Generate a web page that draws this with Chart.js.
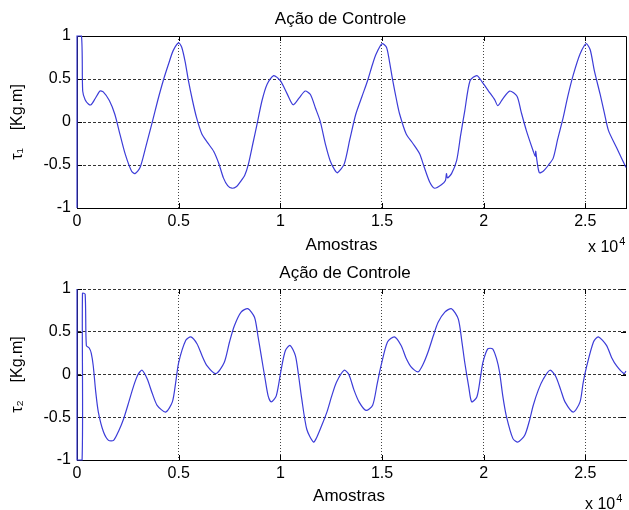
<!DOCTYPE html>
<html>
<head>
<meta charset="utf-8">
<script src="https://cdn.jsdelivr.net/npm/chart.js@4.4.1/dist/chart.umd.min.js"></script>
<style>
    html, body { margin: 0; padding: 0; background: #ffffff; }
    .panel { position: absolute; left: 0; width: 629px; height: 255px; }
</style>
</head>
<body>
<div class="panel" style="top:0"><canvas id="chart1" width="629" height="255"></canvas></div>
<div class="panel" style="top:255px"><canvas id="chart2" width="629" height="255"></canvas></div>
<script>
/* Amostras (x 10^4) and torque values */
const tau1X = [0, 0, 0.022, 0.028, 0.04, 0.056, 0.069, 0.089, 0.113, 0.129, 0.159, 0.186, 0.211, 0.238, 0.268, 0.285, 0.31, 0.337, 0.367, 0.397,
    0.424, 0.451, 0.473, 0.5, 0.515, 0.532, 0.548, 0.568, 0.588, 0.614, 0.642, 0.672, 0.697, 0.72, 0.741, 0.762, 0.785, 0.802, 0.825, 0.843,
    0.865, 0.885, 0.91, 0.935, 0.967, 1.0, 1.033, 1.063, 1.093, 1.122, 1.148, 1.173, 1.196, 1.223, 1.245, 1.268, 1.281, 1.314, 1.342, 1.371,
    1.402, 1.429, 1.452, 1.471, 1.5, 1.522, 1.537, 1.553, 1.572, 1.587, 1.619, 1.652, 1.685, 1.707, 1.735, 1.759, 1.792, 1.812, 1.817, 1.822,
    1.842, 1.867, 1.887, 1.907, 1.933, 1.967, 1.994, 2.024, 2.054, 2.07, 2.094, 2.128, 2.164, 2.184, 2.21, 2.244, 2.254, 2.256, 2.262, 2.274,
    2.294, 2.319, 2.342, 2.364, 2.391, 2.414, 2.441, 2.474, 2.504, 2.524, 2.544, 2.573, 2.594, 2.614, 2.654, 2.7];
const tau1Y = [-1, 1, 1, 0.36, 0.26, 0.21, 0.2, 0.27, 0.36, 0.35, 0.25, 0.09, -0.14, -0.38, -0.57, -0.6, -0.53, -0.3, -0.03, 0.25,
    0.48, 0.68, 0.83, 0.92, 0.87, 0.7, 0.48, 0.25, 0.05, -0.14, -0.24, -0.34, -0.48, -0.65, -0.74, -0.77, -0.75, -0.7, -0.62, -0.49,
    -0.25, -0.03, 0.25, 0.44, 0.54, 0.48, 0.33, 0.2, 0.28, 0.36, 0.32, 0.16, 0.01, -0.27, -0.45, -0.56, -0.59, -0.49, -0.2, 0.09,
    0.3, 0.48, 0.66, 0.79, 0.91, 0.87, 0.7, 0.48, 0.25, 0.09, -0.14, -0.25, -0.37, -0.52, -0.7, -0.77, -0.73, -0.68, -0.6, -0.65,
    -0.6, -0.45, -0.15, 0.13, 0.48, 0.54, 0.46, 0.36, 0.26, 0.19, 0.27, 0.36, 0.3, 0.12, -0.1, -0.34, -0.4, -0.34, -0.45, -0.59,
    -0.57, -0.5, -0.42, -0.2, 0.05, 0.3, 0.55, 0.79, 0.91, 0.84, 0.6, 0.32, 0.1, -0.1, -0.3, -0.53];

const tau2X = [0, 0, 0.025, 0.027, 0.04, 0.046, 0.06, 0.07, 0.08, 0.092, 0.105, 0.13, 0.155, 0.18, 0.205, 0.229, 0.255, 0.279, 0.3, 0.32,
    0.345, 0.37, 0.394, 0.436, 0.469, 0.485, 0.5, 0.535, 0.56, 0.59, 0.615, 0.64, 0.683, 0.724, 0.75, 0.774, 0.807, 0.84, 0.873, 0.89,
    0.906, 0.925, 0.94, 0.955, 0.98, 1.005, 1.025, 1.048, 1.074, 1.089, 1.105, 1.13, 1.163, 1.18, 1.203, 1.229, 1.253, 1.276, 1.314, 1.337,
    1.362, 1.387, 1.421, 1.454, 1.477, 1.495, 1.527, 1.561, 1.594, 1.617, 1.643, 1.677, 1.702, 1.726, 1.752, 1.776, 1.809, 1.842, 1.875, 1.892,
    1.907, 1.927, 1.941, 1.967, 1.985, 1.996, 2.02, 2.044, 2.064, 2.078, 2.094, 2.111, 2.144, 2.169, 2.202, 2.224, 2.244, 2.269, 2.294, 2.326,
    2.354, 2.379, 2.4, 2.441, 2.474, 2.489, 2.507, 2.54, 2.564, 2.604, 2.629, 2.654, 2.69, 2.7];
const tau2Y = [1, -1, -1, 0.95, 0.94, 0.34, 0.31, 0.25, 0.1, -0.2, -0.44, -0.67, -0.77, -0.77, -0.66, -0.52, -0.32, -0.13, 0.0, 0.05,
    -0.05, -0.22, -0.36, -0.44, -0.32, -0.1, 0.14, 0.4, 0.44, 0.36, 0.22, 0.1, 0.01, 0.14, 0.38, 0.57, 0.73, 0.77, 0.67, 0.45,
    0.22, -0.05, -0.25, -0.32, -0.25, 0.07, 0.28, 0.34, 0.22, 0.0, -0.28, -0.64, -0.79, -0.73, -0.6, -0.44, -0.25, -0.09, 0.05, 0.0,
    -0.18, -0.32, -0.42, -0.36, -0.1, 0.1, 0.38, 0.44, 0.34, 0.2, 0.09, 0.03, 0.12, 0.26, 0.45, 0.61, 0.73, 0.77, 0.65, 0.4,
    0.14, -0.15, -0.32, -0.26, -0.02, 0.14, 0.3, 0.3, 0.18, 0.03, -0.25, -0.48, -0.75, -0.79, -0.71, -0.55, -0.36, -0.18, -0.05, 0.05,
    -0.02, -0.18, -0.32, -0.44, -0.32, -0.1, 0.1, 0.38, 0.44, 0.34, 0.2, 0.1, 0.01, 0.04];

/* Tick labels */
const xTicks = [0, 0.5, 1, 1.5, 2, 2.5];
const yTicks = [-1, -0.5, 0, 0.5, 1];

const lineColor = '#3c3cd8';
Chart.defaults.font.family = '"Liberation Sans", Arial, sans-serif';
Chart.defaults.font.size = 16;
Chart.defaults.color = '#000000';

// box, inward tick marks and the MATLAB style texts
const framePlugin = {
    id: 'frame',
    beforeDatasetsDraw(chart, args, opts) {
        const { ctx, chartArea: a, scales } = chart;
        const px = (v) => Math.round(v) + 0.5;
        ctx.save();
        ctx.strokeStyle = '#000000';
        ctx.lineWidth = 1;
        ctx.beginPath();
        if (opts.box) {
            ctx.moveTo(px(a.left), px(a.top));
            ctx.lineTo(px(a.right), px(a.top));
            ctx.lineTo(px(a.right), px(a.bottom));
        }
        xTicks.forEach((v) => {
            const x = px(scales.x.getPixelForValue(v));
            ctx.moveTo(x, a.bottom);
            ctx.lineTo(x, a.bottom - 5);
            ctx.moveTo(x, a.top);
            ctx.lineTo(x, a.top + 5);
        });
        yTicks.forEach((v) => {
            const y = px(scales.y.getPixelForValue(v));
            ctx.moveTo(a.left, y);
            ctx.lineTo(a.left + 5, y);
            ctx.moveTo(a.right, y);
            ctx.lineTo(a.right - 5, y);
        });
        ctx.stroke();
        ctx.restore();
    },
    afterDraw(chart, args, opts) {
        const { ctx } = chart;
        ctx.save();
        ctx.fillStyle = '#000000';
        ctx.textBaseline = 'middle';
        ctx.textAlign = 'center';
        ctx.font = '17px "Liberation Sans", Arial, sans-serif';
        ctx.fillText(opts.title, opts.titleX, opts.titleY);
        ctx.fillText(opts.xLabel, opts.xLabelX, opts.xLabelY);
        ctx.font = '16px "Liberation Sans", Arial, sans-serif';
        ctx.textAlign = 'left';
        ctx.textBaseline = 'alphabetic';
        ctx.fillText('x 10', opts.expX, opts.expY);
        const w = ctx.measureText('x 10').width;
        ctx.font = '11px "Liberation Sans", Arial, sans-serif';
        ctx.fillText('4', opts.expX + w + 1, opts.expY - 7);
        ctx.restore();
    },
};

function buildChart(canvasId, xs, ys, yLabel, layoutTop, axisHeight, texts) {
    return new Chart(document.getElementById(canvasId), {
        type: 'line',
        data: {
            datasets: [{
                data: xs.map((x, i) => ({ x: x, y: ys[i] })),
                borderColor: lineColor,
                borderWidth: 1.2,
                pointRadius: 0,
                tension: 0.25,
                fill: false,
                clip: 2,
            }],
        },
        plugins: [framePlugin],
        options: {
            responsive: false,
            animation: false,
            layout: {
                padding: { top: layoutTop, right: 3, left: 0, bottom: 0 },
            },
            scales: {
                x: {
                    type: 'linear',
                    min: 0,
                    max: 2.7,
                    afterBuildTicks: (scale) => { scale.ticks = xTicks.map((v) => ({ value: v })); },
                    afterFit: (scale) => { scale.height = axisHeight; },
                    grid: {
                        color: '#444444',
                        drawTicks: false,
                    },
                    border: {
                        display: true,
                        color: '#000000',
                        dash: [1, 2],
                    },
                    ticks: {
                        padding: 4,
                        maxRotation: 0,
                        callback: (v) => String(v),
                    },
                },
                y: {
                    min: -1,
                    max: 1,
                    afterBuildTicks: (scale) => { scale.ticks = yTicks.map((v) => ({ value: v })); },
                    afterFit: (scale) => { scale.width = 77; },
                    grid: {
                        color: '#333333',
                        drawTicks: false,
                    },
                    border: {
                        display: true,
                        color: '#000000',
                        dash: [3, 2],
                    },
                    ticks: {
                        padding: 6,
                        callback: (v) => String(v),
                    },
                    title: {
                        display: true,
                        text: yLabel,
                        padding: { top: 8, bottom: 0 },
                    },
                },
            },
            plugins: {
                legend: { display: false },
                tooltip: { enabled: false },
                frame: texts,
            },
        },
    });
}

buildChart('chart1', tau1X, tau1Y, 'τ₁    [Kg.m]', 36, 47, {
    box: true,
    title: 'Ação de Controle', titleX: 340.5, titleY: 19.5,
    xLabel: 'Amostras', xLabelX: 341.5, xLabelY: 245,
    expX: 588, expY: 252,
});

buildChart('chart2', tau2X, tau2Y, 'τ₂    [Kg.m]', 34, 50, {
    box: false,
    title: 'Ação de Controle', titleX: 345, titleY: 18,
    xLabel: 'Amostras', xLabelX: 349, xLabelY: 241.5,
    expX: 585, expY: 254,
});
</script>
</body>
</html>
